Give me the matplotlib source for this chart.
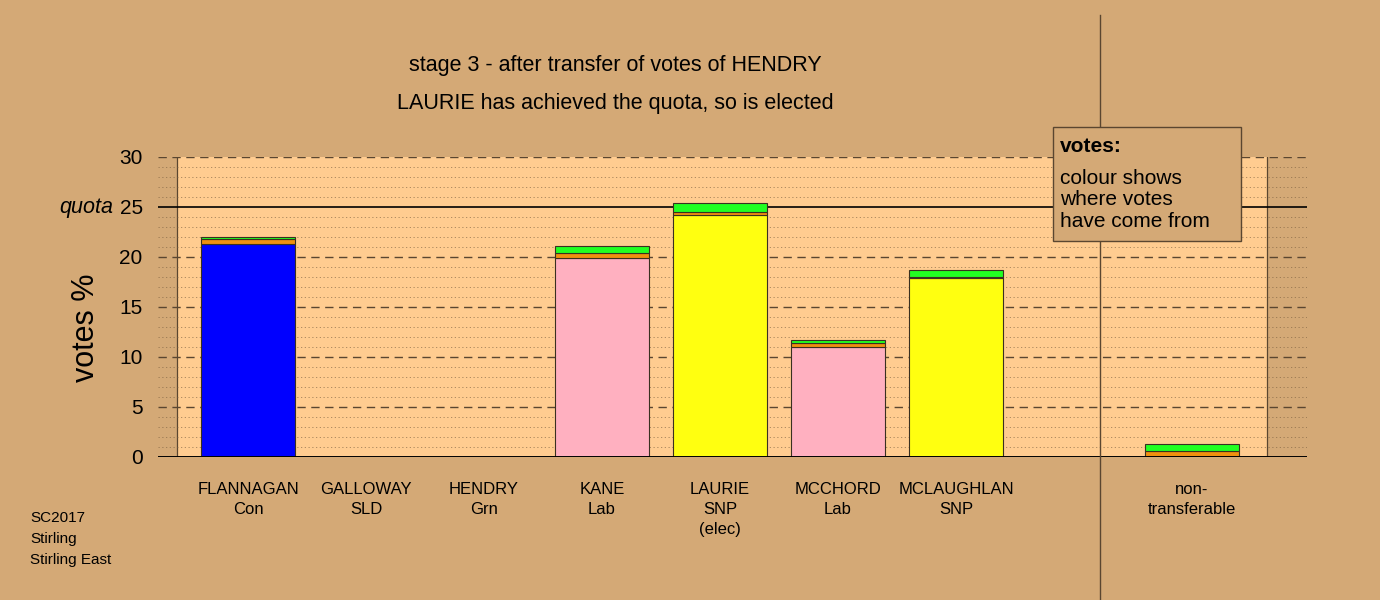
"""Stage 3 of the Stirling East count (SC2017): stacked transfer bars."""

import matplotlib

matplotlib.use("Agg")
import matplotlib.pyplot as plt
from matplotlib.patches import Rectangle
from matplotlib.transforms import blended_transform_factory

plt.rcParams["font.family"] = ["Liberation Sans", "DejaVu Sans"]

BG = "#D4A976"
PANEL = "#FFCC90"
GRID = "#7a6040"

# candidates, in ballot order; non-transferable sits apart on the right
names = ["FLANNAGAN", "GALLOWAY", "HENDRY", "KANE", "LAURIE", "MCCHORD", "MCLAUGHLAN"]
parties = ["Con", "SLD", "Grn", "Lab", "SNP", "Lab", "SNP"]
status = ["", "", "", "", "(elec)", "", ""]
party_colours = ["#0000FF", "#FFD700", "#22FF22", "#FFB0C0", "#FFFF10", "#FFB0C0", "#FFFF10"]

# vote share (%) by origin: own first preferences, from stage 2 (orange), from HENDRY (green)
own_votes = [21.35, 0.0, 0.0, 19.87, 24.23, 10.97, 17.95]
from_stage2 = [0.45, 0.0, 0.0, 0.53, 0.30, 0.43, 0.05]
from_hendry = [0.20, 0.0, 0.0, 0.70, 0.90, 0.27, 0.67]

nontrans_stage2 = 0.57
nontrans_hendry = 0.73

quota = 25
y_max = 30

positions = list(range(len(names)))
nontrans_pos = 8


def main() -> None:
    fig = plt.figure(figsize=(13.8, 6.0), dpi=100, facecolor=BG)
    ax = fig.add_axes([158 / 1380, 143 / 600, 1149 / 1380, 300 / 600])
    ax.set_facecolor("none")
    x_lo, x_hi = -0.763, 8.975
    ax.set_xlim(x_lo, x_hi)
    ax.set_ylim(0, y_max)
    for s in ax.spines.values():
        s.set_visible(False)

    # light panel behind the bars
    panel_lo, panel_hi = -0.602, 8.636
    ax.axvspan(panel_lo, panel_hi, color=PANEL, zorder=0, lw=0)
    ax.axvline(panel_lo, color="#5a4630", lw=0.9, zorder=1)
    ax.axvline(panel_hi, color="#5a4630", lw=0.9, zorder=1)

    for v in range(1, y_max + 1):
        if v == quota:
            ax.axhline(v, color="black", lw=1.2, zorder=1)
        elif v % 5 == 0:
            ax.axhline(v, color="#5a4630", lw=1.0, ls=(0, (6, 4)), zorder=1)
        else:
            ax.axhline(v, color=GRID, lw=0.6, ls=(0, (1.5, 3)), alpha=0.7, zorder=1)
    ax.axhline(0, color="black", lw=1.4, zorder=4)

    width = 0.8
    bottom2 = [a for a in own_votes]
    bottom3 = [a + b for a, b in zip(own_votes, from_stage2)]
    kw = dict(width=width, edgecolor="#3a3020", linewidth=0.8, zorder=3)
    ax.bar(positions, own_votes, color=party_colours, **kw)
    ax.bar(positions, from_stage2, bottom=bottom2, color="#F0900F", **kw)
    ax.bar(positions, from_hendry, bottom=bottom3, color="#22FF22", **kw)
    ax.bar([nontrans_pos], [nontrans_stage2], color="#F0900F", **kw)
    ax.bar([nontrans_pos], [nontrans_hendry], bottom=[nontrans_stage2], color="#22FF22", **kw)

    # separator between candidates and non-transferable
    sep_x = 7.22
    trans = blended_transform_factory(ax.transData, ax.transAxes)
    ax.plot([sep_x, sep_x], [-0.48, 1.475], transform=trans, color="#5a4630",
            lw=1.0, clip_on=False, zorder=5)

    # y axis
    yt = [0, 5, 10, 15, 20, 25, 30]
    ax.set_yticks(yt)
    ax.set_yticklabels([str(v) for v in yt], fontsize=15)
    ax.tick_params(axis="y", length=0, pad=11)
    ytrans = blended_transform_factory(ax.transAxes, ax.transData)
    ax.text(-0.039, quota, "quota", transform=ytrans, ha="right", va="center",
            fontsize=15.5, style="italic")
    ax.text(-0.063, 12.9, "votes %", transform=ytrans, ha="center", va="center",
            rotation=90, fontsize=22)

    # x labels
    labels = [f"{n}\n{p}" + (f"\n{s}" if s else "") for n, p, s in zip(names, parties, status)]
    ax.set_xticks(positions + [nontrans_pos])
    ax.set_xticklabels(labels + ["non-\ntransferable"], fontsize=12, linespacing=1.4, va="top")
    ax.tick_params(axis="x", length=0, pad=18)

    fig.text(615 / 1380, 1 - 66 / 600, "stage 3 - after transfer of votes of HENDRY",
             ha="center", va="center", fontsize=15.5)
    fig.text(615 / 1380, 1 - 103 / 600, "LAURIE has achieved the quota, so is elected",
             ha="center", va="center", fontsize=15.5)

    fig.text(30 / 1380, 1 - 511 / 600, "SC2017\nStirling\nStirling East", ha="left",
             va="top", fontsize=11, linespacing=1.62)

    # note box explaining colours
    box = Rectangle((1053 / 1380, 1 - 241 / 600), 188 / 1380, 114 / 600,
                    transform=fig.transFigure, facecolor=BG, edgecolor="#5a4630",
                    lw=1.0, zorder=6)
    fig.add_artist(box)
    fig.text(1060 / 1380, 1 - 146 / 600, "votes:", fontsize=15, fontweight="bold",
             va="center", zorder=7)
    fig.text(1060 / 1380, 1 - 169 / 600, "colour shows\nwhere votes\nhave come from",
             fontsize=15, va="top", linespacing=1.15, zorder=7)

    fig.savefig("out.png", dpi=100, facecolor=BG)
    plt.close(fig)


if __name__ == "__main__":
    main()
